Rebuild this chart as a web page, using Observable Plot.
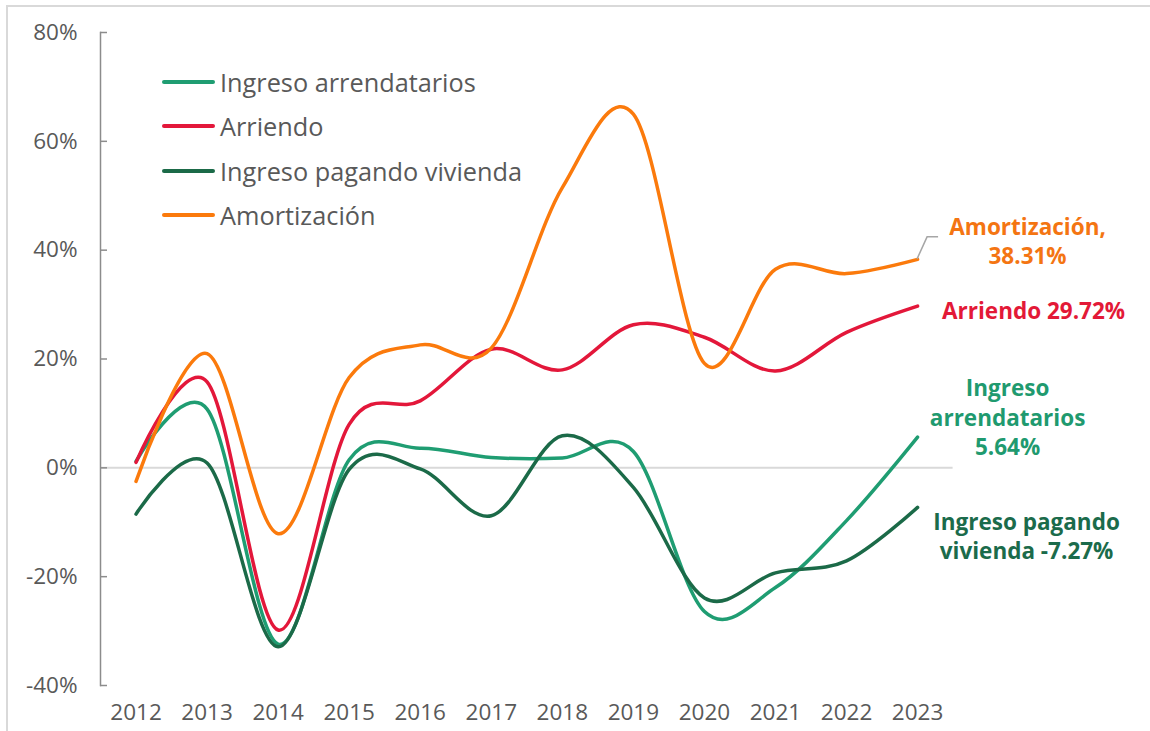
<!DOCTYPE html>
<html>
<head>
<meta charset="utf-8">
<script src="https://cdn.jsdelivr.net/npm/d3@7"></script>
<script src="https://cdn.jsdelivr.net/npm/@observablehq/plot@0.6"></script>
<style>
  body { margin: 0; background: #fff; }
  #wrap { position: relative; width: 1150px; height: 731px; overflow: hidden; font-family: "Open Sans", sans-serif; }
  .frameTop { position: absolute; left: 6px; top: 5px; width: 1144px; height: 2px; background: #d9d9d9; }
  .frameLeft { position: absolute; left: 6px; top: 5px; width: 2px; height: 726px; background: #d9d9d9; }
  #legend { position: absolute; left: 162px; top: 60px; }
  .item { display: flex; align-items: center; height: 44.3px; color: #595959; font-size: 25.3px; white-space: nowrap; }
  .sw { width: 53px; height: 4px; border-radius: 2px; margin-right: 5px; }
  #chart { position: absolute; left: 0; top: 0; }
</style>
</head>
<body>
<div id="wrap">
  <div class="frameTop"></div>
  <div class="frameLeft"></div>
  <div id="chart"></div>
  <div id="legend"></div>
</div>
<script>
// ---- data ----
const years = [2012, 2013, 2014, 2015, 2016, 2017, 2018, 2019, 2020, 2021, 2022, 2023];
const seriesNames = ["Ingreso arrendatarios", "Arriendo", "Ingreso pagando vivienda", "Amortización"];
const ingresoArrendatarios = [1.2, 10.8, -32.4, 1.5, 3.6, 1.9, 1.8, 3.0, -26.4, -22.0, -9.7, 5.64];
const arriendo = [1.0, 15.8, -29.8, 8.0, 12.3, 21.8, 18.0, 26.3, 24.0, 17.8, 24.9, 29.72];
const ingresoPagandoVivienda = [-8.5, 0.9, -32.9, -0.3, -0.2, -8.8, 5.9, -3.6, -23.9, -19.3, -17.1, -7.27];
const amortizacion = [-2.5, 21.0, -12.1, 16.6, 22.6, 22.0, 51.5, 65.0, 19.2, 36.5, 35.7, 38.31];
const yTicks = [-40, -20, 0, 20, 40, 60, 80];
const colors = ["#1f9d72", "#e3173a", "#1b6a48", "#fb7a0c"];
const labelColors = ["#1f9a6f", "#e31937", "#1b6b4b", "#f47512"];
const endLabels = [
  "Ingreso\narrendatarios\n5.64%",
  "Arriendo 29.72%",
  "Ingreso pagando\nvivienda -7.27%",
  "Amortización,\n38.31%"
];

const allValues = [ingresoArrendatarios, arriendo, ingresoPagandoVivienda, amortizacion];
const rows = [];
allValues.forEach((vals, s) => vals.forEach((v, i) => rows.push({series: seriesNames[s], year: years[i], value: v})));
const lastRows = allValues.map((vals, s) => ({series: seriesNames[s], year: years[years.length - 1], value: vals[vals.length - 1], label: endLabels[s]}));

// label offsets (pixels) relative to each series' last point
const labelOffsets = [
  {dx: 90, dy: -21},
  {dx: 116, dy: 4},
  {dx: 109, dy: 28},
  {dx: 110, dy: -19}
];

const leader = (index, scales) => {
  const last = lastRows[3];
  const x0 = scales.x(last.year), y0 = scales.y(last.value);
  return d3.create("svg:path")
    .attr("d", `M${x0},${y0}L${x0 + 10},${y0 - 22}L${x0 + 21},${y0 - 22}`)
    .attr("fill", "none")
    .attr("stroke", "#a6a6a6")
    .attr("stroke-width", 1.5)
    .node();
};

const chart = Plot.plot({
  width: 1150,
  height: 731,
  marginLeft: 100,
  marginRight: 197.4,
  marginTop: 32,
  marginBottom: 46,
  style: {fontFamily: "'Open Sans', sans-serif", fontSize: "22.5px", color: "#595959", background: "transparent", overflow: "visible"},
  x: {domain: [2011.5, 2023.5]},
  y: {domain: [-40, 80]},
  color: {domain: seriesNames, range: colors},
  marks: [
    Plot.ruleY([0], {stroke: "#d9d9d9", strokeWidth: 2}),
    Plot.frame({anchor: "left", stroke: "#8c8c8c", strokeWidth: 1.5}),
    Plot.axisY({ticks: yTicks, tickSize: 7, dx: 7, tickFormat: () => "", stroke: "#8c8c8c", strokeWidth: 1.5, label: null}),
    Plot.axisY({ticks: yTicks, tickSize: 0, tickPadding: 23, tickFormat: d => d + "%", fill: "#595959", label: null}),
    Plot.axisX({ticks: years, tickSize: 0, tickPadding: 19, tickFormat: d => String(d), fill: "#595959", label: null}),
    Plot.line(rows, {x: "year", y: "value", z: "series", stroke: "series", curve: "cardinal", tension: 0, strokeWidth: 3.5, strokeLinecap: "round", strokeLinejoin: "round"}),
    leader,
    ...lastRows.map((r, s) => Plot.text([r], {
      x: "year", y: "value", text: "label",
      dx: labelOffsets[s].dx, dy: labelOffsets[s].dy,
      fill: labelColors[s], fontWeight: "bold", fontSize: 22.5,
      textAnchor: "middle", lineHeight: 1.3
    }))
  ]
});
document.getElementById("chart").appendChild(chart);

const legend = document.getElementById("legend");
seriesNames.forEach((name, i) => {
  const item = document.createElement("div");
  item.className = "item";
  const sw = document.createElement("span");
  sw.className = "sw";
  sw.style.background = colors[i];
  const t = document.createElement("span");
  t.textContent = name;
  item.appendChild(sw);
  item.appendChild(t);
  legend.appendChild(item);
});
</script>
</body>
</html>
